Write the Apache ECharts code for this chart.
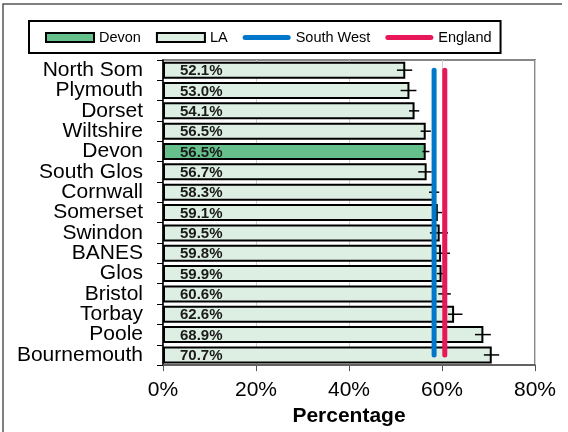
<!DOCTYPE html>
<html><head><meta charset="utf-8">
<script src="https://cdn.jsdelivr.net/npm/echarts@6/dist/echarts.min.js"></script>
<style>html,body{margin:0;padding:0;background:#fff}#c{width:568px;height:432px}</style>
</head><body><div id="c"></div>
<script>
const categories = ['North Som','Plymouth','Dorset','Wiltshire','Devon','South Glos','Cornwall','Somerset','Swindon','BANES','Glos','Bristol','Torbay','Poole','Bournemouth'];
const values = [52.1,53.0,54.1,56.5,56.5,56.7,58.3,59.1,59.5,59.8,59.9,60.6,62.6,68.9,70.7];
const errLow = [50.3,51.1,52.9,55.4,55.8,54.9,57.2,58.0,57.4,57.9,58.9,59.2,61.3,67.1,69.0];
const errHigh = [53.6,54.5,55.1,57.6,57.3,57.8,59.4,60.0,61.3,61.7,60.9,61.9,64.4,70.5,72.3];
const southWest = 58.3;
const england = 60.6;
const highlight = 'Devon';
const xMin = 0, xMax = 80, xStep = 20;

const FONT = "'Liberation Sans', Arial, sans-serif";
const chart = echarts.init(document.getElementById('c'));
const barLabel = {
  show: true, position: 'insideLeft', distance: 5, offset: [12, 1],
  formatter: p => Number(p.value).toFixed(1) + '%',
  fontFamily: FONT, fontWeight: 'bold', fontSize: 15, color: '#1a1a1a'
};
const laData = values.map((v, i) => categories[i] === highlight ? '-' : v);
const devData = values.map((v, i) => categories[i] === highlight ? v : '-');
const errData = errLow.map((l, i) => [l, errHigh[i], i]);
const first = categories[0], last = categories[categories.length - 1];
const SW_COLOR = '#0077C8', EN_COLOR = '#E8175A';
const LINE_ICON = 'path://M2.5,0 L45.5,0 A2.5,2.5 0 0 1 45.5,5 L2.5,5 A2.5,2.5 0 0 1 2.5,0 Z';

chart.setOption({
  animation: false,
  textStyle: { fontFamily: FONT },
  graphic: [{
    type: 'polyline', silent: true,
    shape: { points: [[3, 432], [3, 4], [562, 4]] },
    style: { stroke: '#555', lineWidth: 1.5, fill: null }
  }],
  legend: {
    left: 29, top: 21,
    padding: [9, 9, 8, 16],
    borderColor: '#000', borderWidth: 2,
    itemWidth: 48, itemHeight: 9, itemGap: 15,
    symbolKeepAspect: true,
    textStyle: { fontSize: 14.5, color: '#000', fontFamily: FONT },
    data: [
      { name: 'Devon', icon: 'rect' },
      { name: 'LA', icon: 'rect' },
      { name: 'South West', icon: LINE_ICON, itemStyle: { color: SW_COLOR } },
      { name: 'England', icon: LINE_ICON, itemStyle: { color: EN_COLOR } }
    ]
  },
  grid: { left: 163, right: 33, top: 60, bottom: 65, show: true, borderColor: '#888', borderWidth: 2 },
  xAxis: {
    type: 'value', min: xMin, max: xMax, interval: xStep,
    axisLabel: { formatter: '{value}%', fontSize: 21, color: '#000', margin: 15, fontFamily: FONT },
    axisLine: { show: true, lineStyle: { color: '#555', width: 1.5 } },
    axisTick: { show: true, length: 6, lineStyle: { color: '#555' } },
    splitLine: { show: true, lineStyle: { color: '#cfcfcf', width: 1 } },
    name: 'Percentage', nameLocation: 'middle', nameGap: 38,
    nameTextStyle: { fontSize: 21, fontWeight: 'bold', color: '#000', fontFamily: FONT }
  },
  yAxis: {
    type: 'category', data: categories, inverse: true,
    axisLine: { show: true, lineStyle: { color: '#000', width: 1.5 } },
    axisTick: { show: true, length: 6, lineStyle: { color: '#000' } },
    axisLabel: { interval: 0, fontSize: 21, color: '#000', margin: 20, fontFamily: FONT },
    splitLine: { show: false }
  },
  series: [
    {
      name: 'LA', type: 'bar', data: laData, barWidth: 17, barGap: '-100%',
      itemStyle: { color: '#DDEEE2', borderColor: '#000', borderWidth: 2 },
      label: barLabel, z: 2
    },
    {
      name: 'Devon', type: 'bar', data: devData, barWidth: 17, barGap: '-100%',
      itemStyle: { color: '#66C08C', borderColor: '#000', borderWidth: 2 },
      label: barLabel, z: 2
    },
    {
      name: 'err', type: 'custom', data: errData, encode: { x: [0, 1], y: 2 }, z: 3,
      renderItem: (params, api) => {
        const a = api.coord([api.value(0), api.value(2)]);
        const b = api.coord([api.value(1), api.value(2)]);
        return { type: 'line', shape: { x1: a[0], y1: a[1], x2: b[0], y2: b[1] },
                 style: { stroke: '#000', lineWidth: 1.5 } };
      }
    },
    {
      name: 'South West', type: 'line', data: [[southWest, first], [southWest, last]],
      symbol: 'none', z: 5,
      lineStyle: { color: SW_COLOR, width: 5, cap: 'round' },
      itemStyle: { color: SW_COLOR }
    },
    {
      name: 'England', type: 'line', data: [[england, first], [england, last]],
      symbol: 'none', z: 5,
      lineStyle: { color: EN_COLOR, width: 5, cap: 'round' },
      itemStyle: { color: EN_COLOR }
    }
  ]
});
</script></body></html>
